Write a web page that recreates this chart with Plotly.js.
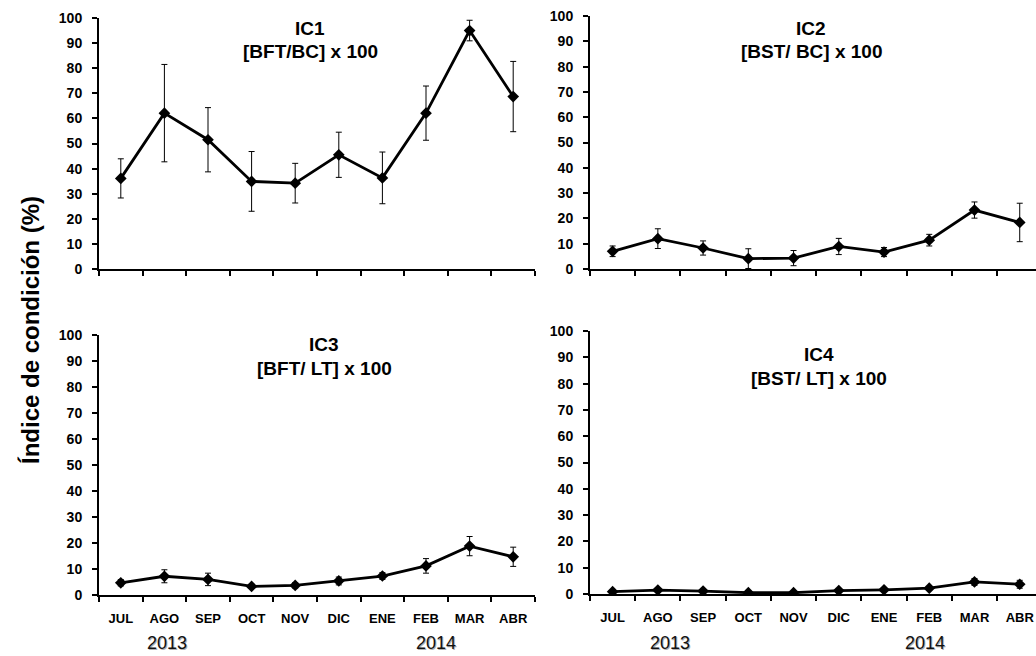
<!DOCTYPE html>
<html>
<head>
<meta charset="utf-8">
<script src="https://cdn.plot.ly/plotly-3.0.1.min.js"></script>
<style>
html,body{margin:0;padding:0;background:#fff;}
#chart{width:1036px;height:656px;}
</style>
</head>
<body>
<div id="chart"></div>
<script>
// ---- data ----
const months = ["JUL","AGO","SEP","OCT","NOV","DIC","ENE","FEB","MAR","ABR"];
const ic1 = [36.1, 62.1, 51.5, 34.9, 34.2, 45.5, 36.3, 62.1, 95.0, 68.7];
const ic1Err = [7.8, 19.4, 12.8, 11.9, 7.9, 9.0, 10.3, 10.8, 4.1, 14.0];
const ic2 = [7.0, 12.0, 8.3, 4.1, 4.3, 8.9, 6.7, 11.4, 23.3, 18.4];
const ic2Err = [2.1, 3.9, 2.8, 3.9, 3.0, 3.2, 1.8, 2.3, 3.2, 7.6];
const ic3 = [4.7, 7.2, 6.0, 3.3, 3.7, 5.4, 7.3, 11.2, 18.8, 14.7];
const ic3Err = [1.2, 2.5, 2.4, 0.8, 1.0, 1.5, 1.3, 2.8, 3.7, 3.7];
const ic4 = [0.9, 1.5, 1.1, 0.5, 0.5, 1.3, 1.6, 2.2, 4.6, 3.7];
const ic4Err = [0.3, 0.5, 0.4, 0.2, 0.3, 0.4, 0.4, 0.4, 1.3, 1.5];
const years = ["2013", "2014"];
const panelTitles = ["IC1", "IC2", "IC3", "IC4"];
const panelSubtitles = ["[BFT/BC] x 100", "[BST/ BC] x 100", "[BFT/ LT] x 100", "[BST/ LT] x 100"];
const yTitle = "Índice de condición (%)";

const W = 1036, H = 656;
const FONT = "Liberation Sans, Arial, sans-serif";

function trace(y, err, xa, ya) {
  return {
    x: months, y: y, xaxis: xa, yaxis: ya, type: "scatter", mode: "lines+markers",
    line: {color: "#000", width: 2.8},
    marker: {symbol: "diamond", size: 9, color: "#000"},
    error_y: {type: "data", array: err, visible: true, color: "#000", thickness: 1, width: 3},
    showlegend: false, hoverinfo: "skip"
  };
}
const data = [
  trace(ic1, ic1Err, "x", "y"),
  trace(ic2, ic2Err, "x2", "y2"),
  trace(ic3, ic3Err, "x3", "y3"),
  trace(ic4, ic4Err, "x4", "y4")
];

function xax(domain, range, showLabels, anchor) {
  return {
    domain: domain, range: range, anchor: anchor, type: "category",
    showgrid: false, zeroline: false, showline: true, linecolor: "#000", linewidth: 2,
    ticks: "outside", tickson: "boundaries", ticklen: 5, tickwidth: 2, tickcolor: "#000",
    showticklabels: showLabels, ticklabelstandoff: 10,
    tickfont: {family: FONT, size: 13, color: "#000", weight: "bold"},
    fixedrange: true
  };
}
function yax(domain, anchor) {
  return {
    domain: domain, range: [0, 100], anchor: anchor, dtick: 10, tick0: 0,
    showgrid: false, zeroline: false, showline: true, linecolor: "#000", linewidth: 2,
    ticks: "outside", ticklen: 5, tickwidth: 2, tickcolor: "#000",
    ticklabelstandoff: 7,
    tickfont: {family: FONT, size: 14, color: "#000", weight: "bold"},
    fixedrange: true
  };
}
const px = v => v / W;
const py = v => 1 - v / H;

const leftX = [px(99), px(535)];
const rightX = [px(590), 1];
const rightRange = [-0.5, 9.36];

const layout = {
  width: W, height: H,
  margin: {l: 0, r: 0, t: 0, b: 0},
  paper_bgcolor: "#fff", plot_bgcolor: "#fff",
  font: {family: FONT, color: "#000"},
  xaxis: xax(leftX, [-0.5, 9.5], false, "y"),
  yaxis: yax([py(269), py(18)], "x"),
  xaxis2: xax(rightX, rightRange, false, "y2"),
  yaxis2: yax([py(269), py(16)], "x2"),
  xaxis3: xax(leftX, [-0.5, 9.5], true, "y3"),
  yaxis3: yax([py(595), py(335)], "x3"),
  xaxis4: xax(rightX, rightRange, true, "y4"),
  yaxis4: yax([py(594), py(331)], "x4"),
  annotations: []
};

const titlePos = [[310, 29, 52], [811, 29, 52], [324, 344, 368], [819, 354, 378]];
titlePos.forEach((p, i) => {
  layout.annotations.push({xref: "paper", yref: "paper", x: px(p[0]), y: py(p[1]), xanchor: "center", yanchor: "middle",
    text: panelTitles[i], showarrow: false, font: {family: FONT, size: 19, color: "#000", weight: "bold"}});
  layout.annotations.push({xref: "paper", yref: "paper", x: px(p[0]), y: py(p[2]), xanchor: "center", yanchor: "middle",
    text: panelSubtitles[i], showarrow: false, font: {family: FONT, size: 19, color: "#000", weight: "bold"}});
});

const yearPos = [[167, 643], [436, 643], [670, 643], [925, 643]];
yearPos.forEach((p, i) => {
  const t = years[i % 2];
  layout.annotations.push({xref: "paper", yref: "paper", x: px(p[0] + 1), y: py(p[1] + 1), xanchor: "center", yanchor: "middle",
    text: t, showarrow: false, borderpad: 0, font: {family: FONT, size: 18, color: "#b0b0b0"}});
  layout.annotations.push({xref: "paper", yref: "paper", x: px(p[0]), y: py(p[1]), xanchor: "center", yanchor: "middle",
    text: t, showarrow: false, borderpad: 0, font: {family: FONT, size: 18, color: "#111"}});
});

layout.annotations.push({xref: "paper", yref: "paper", x: px(30), y: py(330), xanchor: "center", yanchor: "middle",
  text: yTitle, textangle: -90, showarrow: false, font: {family: FONT, size: 24, color: "#000", weight: "bold"}});

Plotly.newPlot("chart", data, layout, {displayModeBar: false, staticPlot: true});
</script>
</body>
</html>
